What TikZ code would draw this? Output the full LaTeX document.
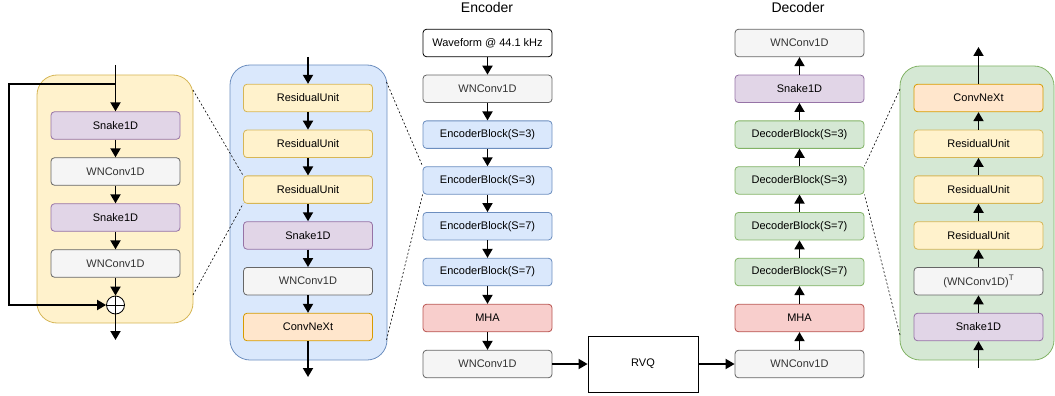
\documentclass[tikz,border=0pt]{standalone}
\usepackage{fontspec}
\setmainfont{Liberation Sans}
\usetikzlibrary{arrows.meta}
\definecolor{yfill}{HTML}{FFF2CC}\definecolor{ystroke}{HTML}{D6B656}
\definecolor{bfill}{HTML}{DAE8FC}\definecolor{bstroke}{HTML}{6C8EBF}
\definecolor{gfill}{HTML}{D5E8D4}\definecolor{gstroke}{HTML}{82B366}
\definecolor{pfill}{HTML}{E1D5E7}\definecolor{pstroke}{HTML}{9673A6}
\definecolor{wfill}{HTML}{F5F5F5}\definecolor{wstroke}{HTML}{666666}\definecolor{wtext}{HTML}{333333}
\definecolor{ofill}{HTML}{FFE6CC}\definecolor{ostroke}{HTML}{D79B00}
\definecolor{rfill}{HTML}{F8CECC}\definecolor{rstroke}{HTML}{B85450}
\tikzset{
  blk/.style={draw, rounded corners=3.5pt, minimum width=129pt, minimum height=27.5pt, inner sep=0pt, line width=0.8pt, font=\fontsize{11pt}{13pt}\selectfont},
  snk/.style={blk, fill=pfill, draw=pstroke},
  wnc/.style={blk, fill=wfill, draw=wstroke, text=wtext},
  ru/.style={blk, fill=yfill, draw=ystroke},
  cnx/.style={blk, fill=ofill, draw=ostroke},
  eb/.style={blk, fill=bfill, draw=bstroke},
  db/.style={blk, fill=gfill, draw=gstroke},
  mha/.style={blk, fill=rfill, draw=rstroke},
  panel/.style={draw, rounded corners=20pt, line width=0.8pt, inner sep=0pt},
  arr/.style={line width=1.8pt, -{Triangle[width=10pt,length=9pt]}},
  dot/.style={line width=0.6pt, dash pattern=on 2pt off 2pt},
  title/.style={font=\fontsize{14pt}{16pt}\selectfont}
}
\begin{document}
\begin{tikzpicture}[x=1pt,y=-1pt]
\useasboundingbox (0,0) rectangle (1055,396);
% panels
\node[panel, fill=yfill, draw=ystroke, minimum width=156pt, minimum height=248pt] (yp) at (115,199) {};
\node[panel, fill=bfill, draw=bstroke, minimum width=157pt, minimum height=295pt] (bp) at (308.5,212.5) {};
\node[panel, fill=gfill, draw=gstroke, minimum width=154pt, minimum height=294pt] (gp) at (977,213) {};
% residual unit
\node[snk] (y1) at (115.5,125.5) {Snake1D};
\node[wnc] (y2) at (115.5,171.5) {WNConv1D};
\node[snk] (y3) at (115.5,217.5) {Snake1D};
\node[wnc] (y4) at (115.5,263.5) {WNConv1D};
\node[draw, circle, fill=white, line width=0.8pt, minimum size=18pt, inner sep=0pt] (plus) at (115.5,305) {};
\draw[line width=0.8pt] (plus.north) -- (plus.south) (plus.west) -- (plus.east);
\coordinate (yin) at (115.5,65);
\coordinate (ysplit) at (115.5,84);
\coordinate (yleft) at (9,84);
\coordinate (yout) at (115.5,340);
\draw[arr] (yin) -- (y1.north);
\draw[arr] (ysplit) -- (yleft) |- (plus.west);
\draw[arr] (y1) -- (y2);
\draw[arr] (y2) -- (y3);
\draw[arr] (y3) -- (y4);
\draw[arr] (y4) -- (plus);
\draw[arr] (plus) -- (yout);
% encoder block
\node[ru] (b1) at (308,98) {ResidualUnit};
\node[ru] (b2) at (308,143.8) {ResidualUnit};
\node[ru] (b3) at (308,189.6) {ResidualUnit};
\node[snk] (b4) at (308,235.4) {Snake1D};
\node[wnc] (b5) at (308,281.2) {WNConv1D};
\node[cnx] (b6) at (308,327) {ConvNeXt};
\coordinate (bin) at (308,57);
\coordinate (bout) at (308,377);
\draw[arr] (bin) -- (b1.north);
\draw[arr] (b1) -- (b2);
\draw[arr] (b2) -- (b3);
\draw[arr] (b3) -- (b4);
\draw[arr] (b4) -- (b5);
\draw[arr] (b5) -- (b6);
\draw[arr] (b6.south) -- (bout);
% encoder
\node[title] (enctitle) at (487,7) {Encoder};
\node[blk, fill=white, draw=black] (e0) at (487.5,43) {Waveform @ 44.1 kHz};
\node[wnc] (e1) at (487.5,88.8) {WNConv1D};
\node[eb] (e2) at (487.5,134.6) {EncoderBlock(S=3)};
\node[eb] (e3) at (487.5,180.4) {EncoderBlock(S=3)};
\node[eb] (e4) at (487.5,226.2) {EncoderBlock(S=7)};
\node[eb] (e5) at (487.5,272) {EncoderBlock(S=7)};
\node[mha] (e6) at (487.5,318) {MHA};
\node[wnc] (e7) at (487.5,364) {WNConv1D};
\foreach \a/\b in {e0/e1,e1/e2,e2/e3,e3/e4,e4/e5,e5/e6,e6/e7} \draw[arr] (\a) -- (\b);
% RVQ
\node[draw, line width=0.8pt, minimum width=110pt, minimum height=56pt, font=\fontsize{11pt}{13pt}\selectfont] (rvq) at (643,364) {RVQ};
% decoder
\node[title] (dectitle) at (798,7) {Decoder};
\node[wnc] (d0) at (799.5,43) {WNConv1D};
\node[snk] (d1) at (799.5,88.8) {Snake1D};
\node[db] (d2) at (799.5,134.6) {DecoderBlock(S=3)};
\node[db] (d3) at (799.5,180.4) {DecoderBlock(S=3)};
\node[db] (d4) at (799.5,226.2) {DecoderBlock(S=7)};
\node[db] (d5) at (799.5,272) {DecoderBlock(S=7)};
\node[mha] (d6) at (799.5,318) {MHA};
\node[wnc] (d7) at (799.5,364) {WNConv1D};
\foreach \a/\b in {d1/d0,d2/d1,d3/d2,d4/d3,d5/d4,d6/d5,d7/d6} \draw[arr] (\a) -- (\b);
\draw[arr] (e7) -- (rvq);
\draw[arr] (rvq) -- (d7);
% decoder block
\node[cnx] (g1) at (978.5,98) {ConvNeXt};
\node[ru] (g2) at (978.5,143.8) {ResidualUnit};
\node[ru] (g3) at (978.5,189.6) {ResidualUnit};
\node[ru] (g4) at (978.5,235.4) {ResidualUnit};
\node[wnc] (g5) at (978.5,281.2) {(WNConv1D)\raisebox{0.45em}{\fontsize{8pt}{9pt}\selectfont T}};
\node[snk] (g6) at (978.5,327) {Snake1D};
\coordinate (gin) at (978.5,368);
\coordinate (gout) at (978.5,47);
\draw[arr] (gin) -- (g6.south);
\foreach \a/\b in {g6/g5,g5/g4,g4/g3,g3/g2,g2/g1} \draw[arr] (\a) -- (\b);
\draw[arr] (g1.north) -- (gout);
% zoom dotted lines
\coordinate (yptr) at (193,90);
\coordinate (ypbr) at (193,295);
\draw[dot] (yptr) -- (b3.north west);
\draw[dot] (ypbr) -- (b3.south west);
\coordinate (bptr) at (386.5,82);
\coordinate (bpbr) at (386.5,340);
\draw[dot] (bptr) -- (e3.north west);
\draw[dot] (bpbr) -- (e3.south west);
\coordinate (gptl) at (900,89);
\coordinate (gpbl) at (900,335);
\draw[dot] (gptl) -- (d3.north east);
\draw[dot] (gpbl) -- (d3.south east);
\end{tikzpicture}
\end{document}
